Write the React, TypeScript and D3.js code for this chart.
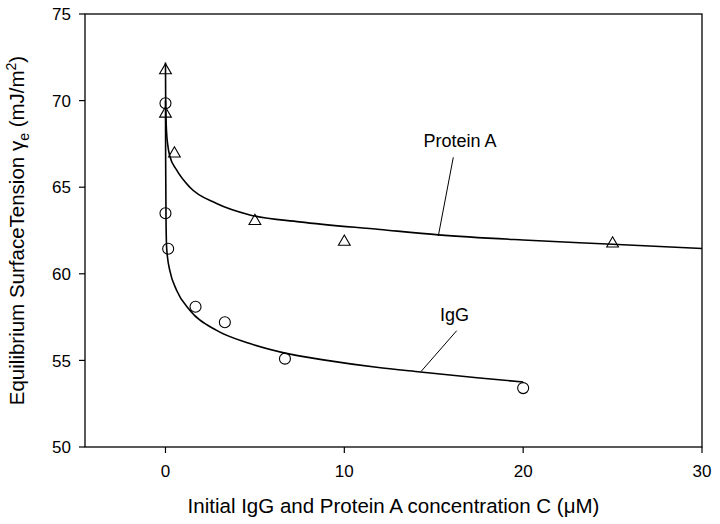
import React from "react";
import * as d3 from "d3";

const xTicks = [0, 10, 20, 30];
const yTicks = [50, 55, 60, 65, 70, 75];

const proteinAX = [0, 5e-1, 5, 10, 25, 0];
const proteinAY = [71.8, 67.0, 63.1, 61.9, 61.8, 69.3];

const iggX = [0, 0, 0.15, 1.68, 3.32, 6.68, 20];
const iggY = [69.85, 63.5, 61.45, 58.1, 57.2, 55.1, 53.4];

const proteinACurveX = [0, 0.01, 0.03, 0.06, 0.12, 0.24, 0.62, 1.36, 2.86, 4.72, 7.5, 12, 15.27, 20, 25, 30];
const proteinACurveY = [72.2, 70.2, 69.0, 68.2, 67.5, 66.8, 66.0, 65.0, 64.06, 63.4, 63.0, 62.56, 62.25, 61.95, 61.71, 61.46];

const iggCurveX = [0, 0.01, 0.03, 0.06, 0.12, 0.24, 0.62, 1.36, 2.86, 4.72, 6.68, 9.02, 11.8, 14.25, 17.42, 20];
const iggCurveY = [70.0, 66.5, 63.2, 61.6, 60.9, 60.2, 59.05, 57.9, 56.73, 55.97, 55.42, 55.0, 54.6, 54.33, 54.0, 53.75];

const W = 720, H = 524;
const L = 85, R = 702, T = 14, B = 447;
const FONT = "Liberation Sans, Arial, sans-serif";

export default function App() {
  const x = d3.scaleLinear().domain([-4.5, 30]).range([L, R]);
  const y = d3.scaleLinear().domain([50, 75]).range([B, T]);
  const line = d3
    .line<[number, number]>()
    .x((d) => x(d[0]))
    .y((d) => y(d[1]))
    .curve(d3.curveMonotoneX);
  const paPath = line(proteinACurveX.map((v, i) => [v, proteinACurveY[i]]) as [number, number][]) || "";
  const igPath = line(iggCurveX.map((v, i) => [v, iggCurveY[i]]) as [number, number][]) || "";
  const tri = d3.symbol().type(d3.symbolTriangle).size(60)() || "";

  return (
    <svg width={W} height={H} style={{ position: "absolute", left: 0, top: 0, background: "#fff" }}
      fontFamily={FONT}>
      <rect x={0} y={0} width={W} height={H} fill="#fff" />
      <rect x={L} y={T} width={R - L} height={B - T} fill="none" stroke="#000" strokeWidth={1.3} />
      {yTicks.map((t) => (
        <g key={"y" + t}>
          <line x1={L - 6} x2={L} y1={y(t)} y2={y(t)} stroke="#000" strokeWidth={1.2} />
          <text x={L - 14} y={y(t)} dy="0.36em" textAnchor="end" fontSize={17}>{t}</text>
        </g>
      ))}
      {xTicks.map((t) => (
        <g key={"x" + t}>
          <line x1={x(t)} x2={x(t)} y1={B} y2={B + 6} stroke="#000" strokeWidth={1.2} />
          <text x={x(t)} y={B + 30} textAnchor="middle" fontSize={17}>{t}</text>
        </g>
      ))}
      <path d={paPath} fill="none" stroke="#000" strokeWidth={1.6} />
      <path d={igPath} fill="none" stroke="#000" strokeWidth={1.6} />
      {proteinAX.map((v, i) => (
        <path key={"pa" + i} d={tri} transform={`translate(${x(v)},${y(proteinAY[i]) + 1})`}
          fill="none" stroke="#000" strokeWidth={1.1} />
      ))}
      {iggX.map((v, i) => (
        <circle key={"ig" + i} cx={x(v)} cy={y(iggY[i])} r={5.5} fill="none" stroke="#000" strokeWidth={1.1} />
      ))}
      <text x={460} y={146.5} textAnchor="middle" fontSize={18}>Protein A</text>
      <line x1={453.3} y1={157.3} x2={438.3} y2={236} stroke="#000" strokeWidth={1} />
      <text x={454.5} y={320.5} textAnchor="middle" fontSize={18}>IgG</text>
      <line x1={456.7} y1={330.7} x2={421} y2={371.5} stroke="#000" strokeWidth={1} />
      <text x={(L + R) / 2} y={513} textAnchor="middle" fontSize={20.5}>
        Initial IgG and Protein A concentration C (μM)
      </text>
      <text transform={`translate(24,${(T + B) / 2}) rotate(-90)`} textAnchor="middle" fontSize={20.5}>
        Equilibrium SurfaceTension γ<tspan fontSize={14} dy={5}>e</tspan>
        <tspan dy={-5}> (mJ/m</tspan>
        <tspan fontSize={14} dy={-8}>2</tspan>
        <tspan dy={8}>)</tspan>
      </text>
    </svg>
  );
}
